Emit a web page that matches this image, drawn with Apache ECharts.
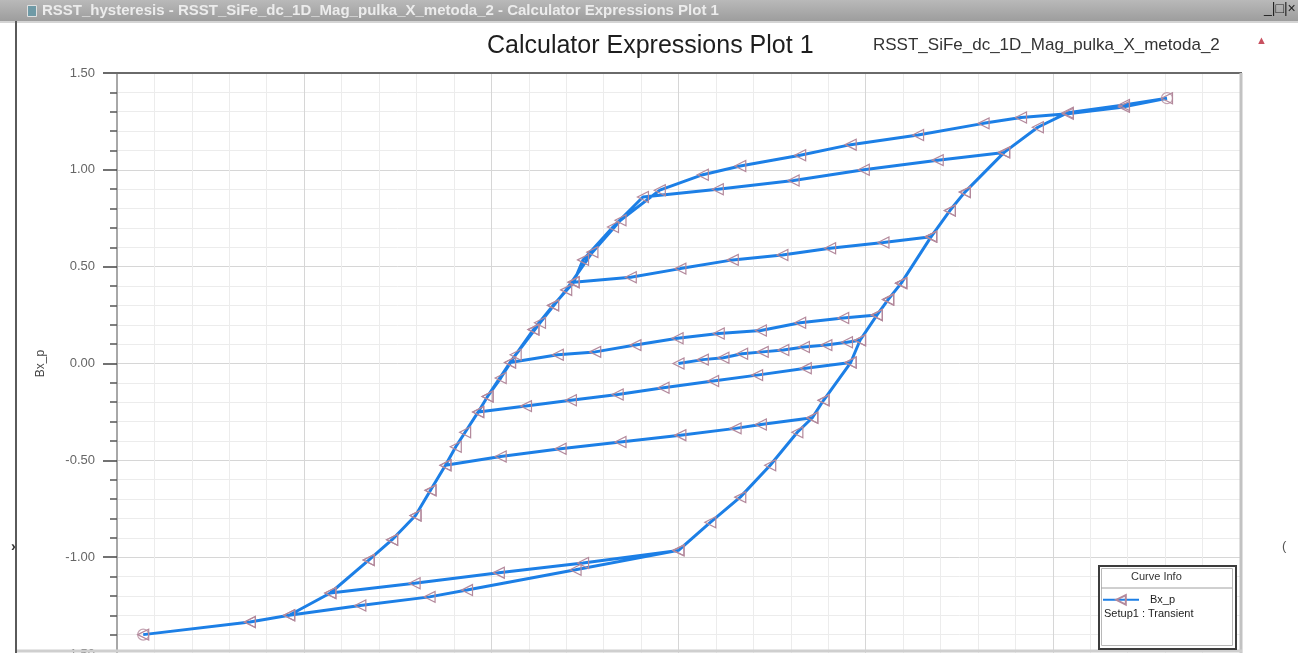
<!DOCTYPE html>
<html>
<head>
<meta charset="utf-8">
<script src="https://cdn.jsdelivr.net/npm/echarts@6/dist/echarts.min.js"></script>
<style>
html,body{margin:0;padding:0;background:#fff;}
#chart{width:1298px;height:653px;}
</style>
</head>
<body>
<div id="chart"></div>
<script>
// ---- data (H, Bx_p), in time order ----
const seriesName = 'Bx_p';
const yTickLabels = ['-1.50', '-1.00', '-0.50', '0.00', '0.50', '1.00', '1.50'];
const initialLine = [[0,0],[0.13,0.02],[0.24,0.03],[0.34,0.05],[0.45,0.06],[0.56,0.07],[0.67,0.085],[0.79,0.095],[0.90,0.11],[0.97,0.12]];
const riseToPeak = [[1.06,0.25],[1.12,0.33],[1.19,0.415],[1.35,0.655],[1.45,0.79],[1.53,0.885],[1.74,1.09],[1.92,1.22],[2.08,1.295],[2.38,1.335],[2.61,1.37]];
const majorFall = [[2.38,1.325],[2.08,1.29],[1.83,1.27],[1.63,1.24],[1.28,1.18],[0.92,1.13],[0.65,1.075],[0.33,1.02],[0.13,0.975],[-0.10,0.895],[-0.31,0.74],[-0.46,0.575],[-0.60,0.38],[-0.74,0.21],[-0.87,0.045],[-0.95,-0.075],[-1.02,-0.17],[-1.07,-0.25],[-1.14,-0.355],[-1.19,-0.43],[-1.245,-0.525],[-1.325,-0.655],[-1.405,-0.785],[-1.53,-0.91],[-1.655,-1.015],[-1.86,-1.185],[-2.08,-1.30],[-2.29,-1.335],[-2.86,-1.40]];
const riseFromTrough = [[-2.29,-1.335],[-2.08,-1.30],[-1.70,-1.25],[-1.33,-1.205],[-1.13,-1.17],[-0.55,-1.065],[0.00,-0.965],[0.17,-0.82],[0.33,-0.69],[0.49,-0.525],[0.635,-0.355],[0.715,-0.28],[0.775,-0.19],[0.92,0.005],[0.97,0.12],[1.06,0.25],[1.12,0.33],[1.19,0.415],[1.35,0.655],[1.45,0.79],[1.53,0.885],[1.74,1.09]];
const recoil1 = [[1.385,1.05],[0.99,1.00],[0.615,0.945],[0.21,0.90],[-0.19,0.86],[-0.35,0.705],[-0.51,0.535],[-0.56,0.42],[-0.67,0.30],[-0.775,0.175],[-0.90,0.005]];
const recoil2 = [[-0.645,0.045],[-0.445,0.06],[-0.23,0.095],[-0.005,0.13],[0.215,0.155],[0.44,0.17],[0.65,0.21],[0.88,0.235],[1.06,0.25],[1.12,0.33],[1.19,0.415],[1.35,0.655]];
const recoil3 = [[1.095,0.625],[0.81,0.595],[0.555,0.56],[0.29,0.535],[0.01,0.49],[-0.255,0.445],[-0.56,0.42],[-0.67,0.30],[-0.775,0.175],[-0.90,0.005],[-1.02,-0.17],[-1.07,-0.25]];
const recoil4 = [[-0.815,-0.22],[-0.575,-0.19],[-0.325,-0.16],[-0.08,-0.125],[0.185,-0.09],[0.42,-0.06],[0.68,-0.025],[0.92,0.005],[0.775,-0.19],[0.715,-0.28]];
const recoil5 = [[0.44,-0.315],[0.305,-0.335],[0.01,-0.37],[-0.31,-0.405],[-0.63,-0.44],[-0.95,-0.48],[-1.245,-0.525],[-1.325,-0.655],[-1.405,-0.785],[-1.53,-0.91],[-1.655,-1.015],[-1.86,-1.185]];
const recoil6 = [[-1.41,-1.135],[-0.96,-1.08],[-0.51,-1.03],[0.00,-0.965]];
const extremes = [[2.61,1.37],[-2.86,-1.40]];

const path = [].concat(initialLine, riseToPeak, majorFall, riseFromTrough, recoil1, recoil2, recoil3, recoil4, recoil5, recoil6);

const FONT = 'Liberation Sans, Arial, sans-serif';
const chart = echarts.init(document.getElementById('chart'), null, {renderer: 'canvas'});

const option = {
  backgroundColor: '#ffffff',
  animation: false,
  textStyle: {fontFamily: FONT},
  grid: {left: 117, top: 73, width: 1123, height: 581, containLabel: false, outerBoundsMode: 'none'},
  xAxis: {
    type: 'value', min: -3, max: 3, interval: 1,
    axisLine: {show: false, onZero: false}, axisTick: {show: false}, axisLabel: {show: false},
    splitLine: {show: true, lineStyle: {color: '#d6d6d6', width: 1}},
    minorTick: {show: false, splitNumber: 5},
    minorSplitLine: {show: true, lineStyle: {color: '#ececec', width: 1}}
  },
  yAxis: {
    type: 'value', min: -1.5, max: 1.5, interval: 0.5, position: 'left',
    name: 'Bx_p', nameLocation: 'middle', nameGap: 70, nameRotate: 90,
    nameTextStyle: {color: '#444', fontSize: 12, fontFamily: FONT},
    axisLine: {show: true, onZero: false, lineStyle: {color: '#a8a8a8', width: 2}},
    axisTick: {show: true, inside: false, length: 14, lineStyle: {color: '#444', width: 1.5}},
    minorTick: {show: true, splitNumber: 5, length: 7, lineStyle: {color: '#555', width: 1.5}},
    axisLabel: {color: '#666', fontSize: 13, margin: 22, fontFamily: FONT,
      formatter: function (v) { return yTickLabels[Math.round((v + 1.5) / 0.5)]; }},
    splitLine: {show: true, lineStyle: {color: '#d6d6d6', width: 1}},
    minorSplitLine: {show: true, lineStyle: {color: '#ececec', width: 1}}
  },
  legend: {
    show: true, data: [seriesName], left: 1102, top: 594, orient: 'vertical', padding: 0,
    itemWidth: 36, itemHeight: 12, itemGap: 2, z: 30,
    textStyle: {color: '#222', fontSize: 11, fontFamily: FONT, padding: [0, 0, 0, 6]}
  },
  series: [
    {
      name: seriesName, type: 'line', data: path, z: 3,
      showSymbol: true, showAllSymbol: true,
      symbol: 'triangle', symbolRotate: 90, symbolSize: 11,
      lineStyle: {color: '#1c7fe6', width: 3},
      itemStyle: {color: 'rgba(255,255,255,0)', borderColor: '#b3899c', borderWidth: 1.2},
      emphasis: {disabled: true}
    },
    {
      name: 'extremes', type: 'scatter', data: extremes, z: 4,
      symbol: 'circle', symbolSize: 11,
      itemStyle: {color: 'rgba(255,255,255,0)', borderColor: '#b3899c', borderWidth: 1.2}
    }
  ],
  graphic: [
    // window title bar
    {type: 'rect', left: 0, top: 0, z: 50, shape: {width: 1298, height: 21},
      style: {fill: new echarts.graphic.LinearGradient(0, 0, 0, 1, [{offset: 0, color: '#b9b9b9'}, {offset: 1, color: '#9d9d9d'}])}},
    {type: 'rect', left: 0, top: 21, z: 50, shape: {width: 1298, height: 2}, style: {fill: '#d4d4d4'}},
    {type: 'rect', left: 27, top: 5, z: 51, shape: {width: 9, height: 11}, style: {fill: '#6f9aa6', stroke: '#e0e0e0', lineWidth: 1}},
    {type: 'text', left: 42, top: 3, z: 51,
      style: {text: 'RSST_hysteresis - RSST_SiFe_dc_1D_Mag_pulka_X_metoda_2 - Calculator Expressions Plot 1', fill: '#ececec', font: 'bold 15px ' + FONT}},
    {type: 'text', left: 1264, top: 2, z: 51, style: {text: '_|□|×', fill: '#222', font: '14px ' + FONT}},
    // window left border
    {type: 'rect', left: 15, top: 21, z: 50, shape: {width: 2, height: 632}, style: {fill: '#5a5a5a'}},
    // chart titles
    {type: 'text', left: 487, top: 34, z: 50, style: {text: 'Calculator Expressions Plot 1', fill: '#1e1e1e', font: '25px ' + FONT}},
    {type: 'text', left: 873, top: 37, z: 50, style: {text: 'RSST_SiFe_dc_1D_Mag_pulka_X_metoda_2', fill: '#333', font: '17px ' + FONT}},
    {type: 'text', left: 1256, top: 35, z: 50, style: {text: '▲', fill: '#c8505f', font: '11px ' + FONT}},
    // plot frame
    {type: 'line', z: 20, shape: {x1: 103, y1: 73, x2: 1242, y2: 73}, style: {stroke: '#6a6a6a', lineWidth: 2}},
    {type: 'line', z: 20, shape: {x1: 1241, y1: 73, x2: 1241, y2: 653}, style: {stroke: '#c2c2c2', lineWidth: 3}},
    {type: 'line', z: 20, shape: {x1: 17, y1: 651, x2: 1242, y2: 651}, style: {stroke: '#cfcfcf', lineWidth: 3}},
    // stray edge marks
    {type: 'text', left: 11, top: 540, z: 50, style: {text: '›', fill: '#333', font: 'bold 14px ' + FONT}},
    {type: 'text', left: 1282, top: 540, z: 50, style: {text: '(', fill: '#555', font: '13px ' + FONT}},
    // Curve Info box
    {type: 'rect', left: 1098, top: 565, z: 25, shape: {width: 137, height: 83}, style: {fill: '#fff', stroke: '#3c3c3c', lineWidth: 2}},
    {type: 'rect', left: 1101, top: 568, z: 26, shape: {width: 131, height: 77}, style: {fill: 'rgba(0,0,0,0)', stroke: '#b8b8b8', lineWidth: 1}},
    {type: 'line', z: 26, shape: {x1: 1101, y1: 588, x2: 1232, y2: 588}, style: {stroke: '#a0a0a0', lineWidth: 1}},
    {type: 'text', left: 1131, top: 571, z: 26, style: {text: 'Curve Info', fill: '#333', font: '11px ' + FONT}},
    {type: 'text', left: 1104, top: 608, z: 26, style: {text: 'Setup1 : Transient', fill: '#222', font: '11px ' + FONT}}
  ]
};
chart.setOption(option);
</script>
</body>
</html>
